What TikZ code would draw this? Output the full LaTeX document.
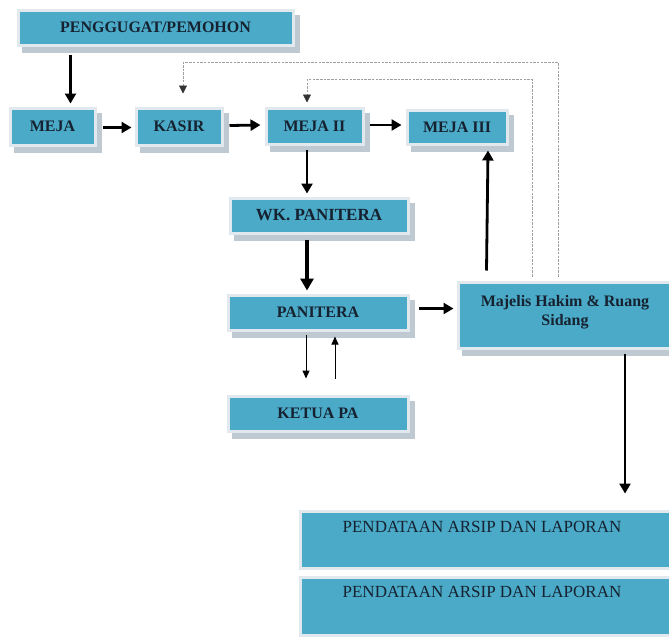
\documentclass[tikz,border=0pt]{standalone}
\usepackage{fontspec}
\setmainfont{Liberation Serif}
\usetikzlibrary{arrows.meta,calc}
\definecolor{boxfill}{RGB}{74,170,200}
\definecolor{boxedge}{RGB}{226,233,238}
\definecolor{shade}{RGB}{190,201,209}
\definecolor{txt}{RGB}{22,34,48}
\tikzset{
  flowbox/.style={rectangle, fill=boxfill, draw=boxedge, line width=3pt,
    inner sep=0pt, align=center, text=txt, font=\fontsize{16}{19}\selectfont\bfseries},
  shadowed/.style={preaction={fill=shade, draw=shade, line width=3pt, transform canvas={shift={(5pt,-6pt)}}}},
  thickarr/.style={line width=2.8pt, -{Triangle[length=10pt,width=11pt]}},
  thinarr/.style={line width=1pt, -{Triangle[length=8pt,width=7pt]}},
  dashline/.style={line width=0.8pt, gray!75, dash pattern=on 2.5pt off 1.2pt, -{Triangle[length=8pt,width=8pt,color=black!80]}}
}
\begin{document}
\begin{tikzpicture}[x=1pt,y=-1pt]
\useasboundingbox (0,0) rectangle (669,643);
% boxes
\node[flowbox,shadowed,minimum width=275pt,minimum height=35pt] (pg) at (155.5,27.5) {PENGGUGAT/PEMOHON};
\node[flowbox,shadowed,minimum width=85pt,minimum height=37pt] (meja) at (52.5,126.5) {MEJA};
\node[flowbox,shadowed,minimum width=86pt,minimum height=37pt] (kasir) at (179,126.5) {KASIR};
\node[flowbox,shadowed,minimum width=97pt,minimum height=36pt] (meja2) at (314.5,126) {MEJA II};
\node[flowbox,shadowed,minimum width=100pt,minimum height=34pt] (meja3) at (457,127) {MEJA III};
\node[flowbox,shadowed,minimum width=178pt,minimum height=35pt,font=\fontsize{17}{19}\selectfont\bfseries] (wk) at (319,215.5) {WK. PANITERA};
\node[flowbox,shadowed,minimum width=180pt,minimum height=35pt] (pan) at (318,312.5) {PANITERA};
\node[flowbox,shadowed,minimum width=180pt,minimum height=35pt] (ketua) at (318,413.5) {KETUA PA};
\node[flowbox,shadowed,minimum width=214pt,minimum height=66pt] (mh) at (565,315) {};
\node[font=\fontsize{16}{19}\selectfont\bfseries,text=txt,align=center] (mhtext) at (565,312) {Majelis Hakim \& Ruang\\Sidang};
\node[flowbox,minimum width=372pt,minimum height=57pt] (pd1) at (486,539.5) {};
\node[font=\fontsize{17}{19}\selectfont,text=txt] (pd1text) at (482,527) {PENDATAAN ARSIP DAN LAPORAN};
\node[flowbox,minimum width=372pt,minimum height=58pt] (pd2) at (486,606) {};
\node[font=\fontsize{17}{19}\selectfont,text=txt] (pd2text) at (482,592) {PENDATAAN ARSIP DAN LAPORAN};
% arrows
\draw[thickarr] ([shift={(54,8)}]pg.south west) -- ([shift={(62,-3)}]meja.north west);
\draw[thickarr] ([shift={(6,1)}]meja.east) -- ([shift={(-3,1)}]kasir.west);
\draw[thickarr] ([shift={(6,-1)}]kasir.east) -- ([shift={(-4,-1)}]meja2.west);
\draw[thickarr] ([shift={(5,-1)}]meja2.east) -- ([shift={(-4,-2)}]meja3.west);
\draw[thickarr] ([shift={(-7.5,4)}]meja2.south) -- ([shift={(-12,-3)}]wk.north);
\draw[line width=3.4pt, -{Triangle[length=12pt,width=13pt]}] ([shift={(-12,5)}]wk.south) -- ([shift={(-11,-3)}]pan.north);
\draw[thickarr] ([shift={(9,-4)}]pan.east) -- ([shift={(-3,-6.5)}]mh.west);
\draw[thinarr] ([shift={(-12,3)}]pan.south) -- ([shift={(-12,-16)}]ketua.north);
\draw[thinarr] ([shift={(17,-16)}]ketua.north) -- ([shift={(17,5)}]pan.south);
\draw[thickarr] ([shift={(30,-10)}]mh.north west) -- ([shift={(31,5)}]meja3.south);
\draw[thickarr] ([shift={(60,4)}]mh.south) -- ([shift={(139,-16)}]pd1.north);
% dashed feedback lines
\coordinate (d1a) at ([shift={(76,-4)}]mh.north west);
\coordinate (d2a) at ([shift={(102,-4)}]mh.north west);
\draw[dashline] (d1a) |- ([shift={(-7.5,-27)}]meja2.north) -- ([shift={(-7.5,-4)}]meja2.north);
\draw[dashline] (d2a) |- ([shift={(4,-44)}]kasir.north) -- ([shift={(4,-13)}]kasir.north);
\end{tikzpicture}
\end{document}
